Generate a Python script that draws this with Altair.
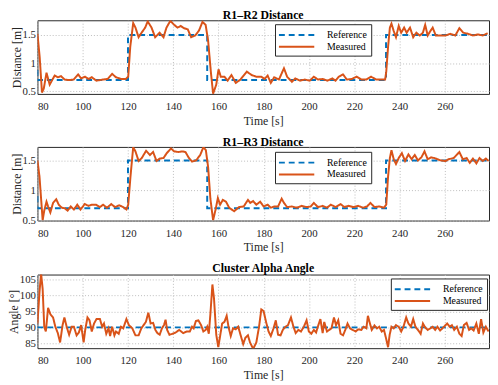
import altair as alt
import pandas as pd

# ---------------- data ----------------
series_names = ["Reference", "Measured"]
series_colors = ["#0072BD", "#D95319"]

x_ticks = [80, 100, 120, 140, 160, 180, 200, 220, 240, 260]

# Panel 1: R1-R2 distance
ref1_t = [80, 80, 120, 120, 155, 155, 234, 234, 279.5]
ref1_v = [0.88, 0.7, 0.7, 1.5, 1.5, 0.7, 0.7, 1.5, 1.5]
meas1_t = [80, 81, 82, 82.8, 84, 85.4, 87.6, 89, 90.4, 92, 94, 96, 98, 99.3, 101, 102.6, 104, 106, 109, 111,
           113, 114.7, 117, 119, 120.1, 121, 122.3, 123.3, 124.7, 126, 127.6, 128.7, 130.4, 132, 134, 135.7,
           137, 138.7, 140.4, 141.9, 143.3, 144.7, 146.4, 147.9, 149.7, 151.4, 152.9, 154.3, 155.4, 156.6,
           157.6, 159, 160, 161, 162.6, 164, 165.7, 167.6, 169.7, 172.5, 174.6, 176.7, 178.9, 180.3, 181.7,
           183.1, 184.6, 186.7, 188.9, 190.3, 192.4, 193.9, 196, 198.1, 200.3, 202.1, 203.9, 206, 208.1,
           210.3, 211.7, 213.1, 215, 216.7, 218.9, 221, 223.1, 225.3, 227.4, 229.6, 231.7, 233.6, 234.1,
           234.9, 235.7, 236.4, 237.4, 238.4, 239.6, 240.7, 242, 243.1, 244.6, 246, 247.4, 248.9, 250.3,
           251.3, 252.4, 253.6, 254.6, 256, 258.1, 260.3, 262.4, 264.6, 266.4, 268.1, 270.3, 272.4, 274.6,
           276.7, 278.9]
meas1_v = [1.52, 1.1, 0.48, 0.55, 0.83, 0.62, 0.78, 0.75, 0.77, 0.71, 0.70, 0.71, 0.80, 0.73, 0.76, 0.72,
           0.75, 0.69, 0.71, 0.72, 0.81, 0.75, 0.72, 0.72, 0.76, 1.29, 1.71, 1.63, 1.46, 1.54, 1.63, 1.74,
           1.63, 1.46, 1.54, 1.46, 1.63, 1.75, 1.68, 1.63, 1.66, 1.62, 1.60, 1.46, 1.49, 1.58, 1.73, 1.68,
           1.40, 0.85, 0.46, 0.62, 0.89, 0.76, 0.76, 0.69, 0.79, 0.65, 0.71, 0.85, 0.79, 0.76, 0.76, 0.72,
           0.78, 0.65, 0.75, 0.71, 0.91, 0.76, 0.67, 0.73, 0.69, 0.71, 0.69, 0.76, 0.71, 0.72, 0.69, 0.73,
           0.69, 0.76, 0.80, 0.71, 0.72, 0.76, 0.71, 0.71, 0.76, 0.71, 0.71, 0.71, 0.85, 1.29, 1.63, 1.70,
           1.57, 1.46, 1.66, 1.54, 1.63, 1.54, 1.63, 1.46, 1.54, 1.49, 1.54, 1.68, 1.49, 1.57, 1.63, 1.49,
           1.49, 1.49, 1.52, 1.49, 1.62, 1.54, 1.52, 1.49, 1.51, 1.49, 1.53]

# Panel 2: R1-R3 distance
ref2_t = [80, 80, 120, 120, 155, 155, 234, 234, 279.5]
ref2_v = [0.9, 0.7, 0.7, 1.5, 1.5, 0.7, 0.7, 1.5, 1.5]
meas2_t = [80, 80.9, 81.9, 82.3, 83, 84, 84.7, 85.7, 86.9, 88.3, 89.4, 90.7, 92.1, 93.3, 94.7, 96.1, 97.6,
           99, 100.9, 102.6, 104, 105.9, 107.6, 109, 110.7, 112.6, 114.3, 116.1, 117.9, 119.3, 120.1, 121.1,
           122.3, 123.3, 124.7, 126.1, 128, 129.7, 131.1, 132.6, 134, 135.7, 137.1, 139, 140.4, 142.3, 144,
           145.4, 146.9, 148.3, 150.1, 151.9, 153.3, 154.4, 155.4, 156.4, 157.6, 158.7, 159.7, 160.7, 161.9,
           163.3, 164.7, 166.9, 169, 171.1, 173, 174, 175.3, 176.7, 178.4, 179.9, 181.7, 183.1, 184.6, 186.3,
           187.9, 188.9, 190.3, 192.4, 194.6, 196.7, 198.9, 200.7, 202.1, 203.9, 206, 207.9, 209.6, 211.7,
           213.9, 215.6, 217.4, 219.6, 221.7, 223.9, 225.6, 227.1, 228.9, 231, 233.1, 234.1, 234.9, 235.7,
           236.4, 237.4, 238.4, 239.6, 241, 242.4, 243.9, 245.3, 246.7, 248.1, 249.6, 251, 252.4, 253.9,
           255.3, 256.7, 258.1, 260.3, 261.7, 263.9, 266.4, 267.9, 269.6, 271, 272.4, 273.9, 275.3, 276.7,
           278.1, 279.3]
meas2_v = [1.5, 1.23, 0.71, 0.5, 0.66, 0.81, 0.73, 0.63, 0.79, 0.85, 0.76, 0.71, 0.70, 0.66, 0.73, 0.68,
           0.76, 0.68, 0.77, 0.74, 0.76, 0.76, 0.72, 0.76, 0.71, 0.77, 0.72, 0.75, 0.72, 0.68, 0.76, 1.23,
           1.72, 1.65, 1.49, 1.54, 1.66, 1.59, 1.64, 1.49, 1.53, 1.54, 1.62, 1.70, 1.65, 1.64, 1.65, 1.64,
           1.54, 1.48, 1.50, 1.59, 1.72, 1.67, 1.39, 0.86, 0.5, 0.68, 0.87, 0.76, 0.84, 0.81, 0.71, 0.65,
           0.72, 0.73, 0.84, 0.79, 0.82, 0.76, 0.81, 0.73, 0.76, 0.71, 0.73, 0.73, 0.86, 0.79, 0.72, 0.73,
           0.71, 0.74, 0.72, 0.73, 0.79, 0.72, 0.74, 0.71, 0.76, 0.72, 0.77, 0.72, 0.74, 0.72, 0.74, 0.71,
           0.73, 0.79, 0.72, 0.73, 0.71, 0.76, 1.23, 1.54, 1.67, 1.52, 1.44, 1.54, 1.62, 1.49, 1.60, 1.52,
           1.59, 1.50, 1.55, 1.65, 1.52, 1.55, 1.54, 1.52, 1.50, 1.49, 1.52, 1.54, 1.64, 1.52, 1.54, 1.46,
           1.53, 1.45, 1.54, 1.49, 1.53, 1.49]

# Panel 3: cluster alpha angle
ref3_t = [80, 279.5]
ref3_v = [90, 90]
meas3_t = [80, 80.9, 81.6, 82.3, 83, 83.7, 84.7, 85.7, 86.9, 87.9, 89, 90, 91.1, 91.9, 92.9, 94, 95.1, 96.1,
           97.3, 98.3, 99.3, 100.4, 101.1, 102.1, 103, 104, 105, 106.1, 107.6, 108.6, 109.4, 110.4, 111.4,
           112.1, 113, 114, 114.7, 115.9, 116.9, 117.9, 119.3, 120.4, 121.9, 123.3, 124.7, 125.9, 126.9,
           127.9, 129, 130, 131.1, 132.1, 133, 134, 135, 135.9, 136.6, 137.3, 138.3, 139.7, 141.1, 142.6,
           144.4, 145.9, 147.3, 148.3, 149, 150, 151.1, 152.3, 153.3, 154.3, 155, 155.7, 156.4, 157.3, 158,
           159, 159.9, 160.7, 161.6, 162.6, 163.6, 164.4, 165.4, 166.4, 167.6, 168.7, 169.7, 170.9, 171.9,
           173, 173.9, 175.3, 176.7, 177.9, 178.9, 179.9, 181, 182.1, 183.1, 184.3, 185.3, 186.3, 187.4,
           188.4, 189.6, 190.7, 192, 193.1, 194.1, 195.3, 196.4, 197.7, 198.9, 199.9, 201, 202.1, 203.1,
           204.1, 205, 206, 206.7, 207.9, 208.9, 209.9, 211, 211.9, 212.9, 213.9, 215, 216, 217, 218.1,
           219.3, 220.6, 221.7, 223.1, 224.1, 225.3, 226, 226.7, 227.7, 228.9, 230, 231, 232.1, 233.1, 234.1,
           234.9, 235.6, 236.4, 237.4, 238.4, 239.6, 240.7, 241.7, 242.9, 243.9, 245, 246, 247, 248.1, 249.3,
           250.3, 251.3, 252.4, 253.6, 254.6, 255.7, 256.7, 257.9, 258.9, 259.9, 261, 262.1, 263.1, 264.1,
           265.3, 266.4, 267.4, 268.4, 269.6, 270.7, 271.7, 272.7, 273.9, 275, 276, 277, 278.1, 279.3]
meas3_v = [91.2, 101, 106.9, 102, 90.2, 88.7, 96.1, 94.1, 93.1, 90.2, 88.2, 85.3, 90.7, 93.1, 90.2, 87.7,
           90.2, 90.2, 87.5, 88.4, 90.7, 85.3, 89.2, 93.1, 92.2, 88.7, 91.2, 92.6, 92.6, 90.2, 91.2, 88,
           89.7, 87.3, 90.2, 87.5, 88.7, 88, 90.2, 89.7, 92.6, 90.7, 89.7, 87.5, 87.5, 89.7, 90.7, 91.7,
           94.6, 91.2, 91.4, 89.2, 88.2, 87.7, 89.7, 90.7, 92.4, 89.2, 87.7, 88, 88.4, 89.2, 88.2, 88.7,
           88.7, 90.2, 89.7, 92, 92.2, 90.7, 88.7, 89.2, 90.2, 88, 94.1, 103.4, 99, 87.7, 83.8, 87.3, 91.2,
           91.7, 93.6, 90.2, 87.3, 89.7, 89.4, 90.2, 87.7, 84.8, 86.8, 87.5, 85.3, 83.3, 85.3, 90.2, 95.6,
           95.1, 91.7, 88.7, 87.3, 89.7, 92.2, 87.7, 87.5, 89.2, 90.2, 90.7, 93.1, 90.2, 88.2, 89.2, 88.7,
           90.2, 92.2, 88.7, 88, 89.2, 88.4, 90.7, 92.6, 88.2, 91.7, 88.7, 89.2, 89.7, 93.1, 90.7, 92.2, 88,
           87.5, 89.2, 91.2, 89.7, 89.2, 88.7, 89.4, 89.2, 90.2, 89.7, 93.6, 91.7, 89.2, 90.6, 89.7, 90.2,
           88.7, 89.2, 86.3, 83.8, 87.7, 90.2, 89.7, 90.7, 90.2, 88.7, 90.2, 93.1, 91.2, 90.2, 92.6, 90.2,
           89.2, 88, 91.2, 90, 89.2, 89.7, 90.2, 89.2, 90.2, 89, 89.7, 90.4, 91.2, 90.2, 90.7, 89.2, 90.2,
           88, 87.3, 90.7, 91.4, 89.2, 89.7, 89, 91.2, 88, 92.6, 88.4, 90.2, 88.7]

FONT = "Liberation Serif"
X_DOMAIN = [80, 279.5]
PLOT_W = 460


def make_df(ref_t, ref_v, meas_t, meas_v):
    rows = []
    for i, (t, v) in enumerate(zip(ref_t, ref_v)):
        rows.append({"t": t, "v": v, "series": "Reference", "i": i})
    for i, (t, v) in enumerate(zip(meas_t, meas_v)):
        rows.append({"t": t, "v": v, "series": "Measured", "i": i})
    return pd.DataFrame(rows)


def panel(df, title, ytitle, ydomain, yticks, lx, ly, h):
    legend = alt.Legend(title=None, orient="none", legendX=lx, legendY=ly,
                        symbolType="M-3,0H3", symbolSize=144, symbolStrokeWidth=2,
                        symbolOffset=11, labelOffset=24,
                        labelFont=FONT, labelFontSize=10, labelColor="#000000",
                        strokeColor="#262626", fillColor="#ffffff", padding=4,
                        rowPadding=0, cornerRadius=0)
    color = alt.Color("series:N", scale=alt.Scale(domain=series_names, range=series_colors), legend=legend)
    dash = alt.StrokeDash("series:N", scale=alt.Scale(domain=series_names, range=[[6, 4], [1, 0]]), legend=legend)
    x = alt.X("t:Q", scale=alt.Scale(domain=X_DOMAIN, nice=False, zero=False),
              axis=alt.Axis(values=x_ticks, title="Time [s]"))
    y = alt.Y("v:Q", scale=alt.Scale(domain=ydomain, nice=False, zero=False),
              axis=alt.Axis(values=yticks, title=ytitle, format="~g"))
    base = alt.Chart(df)
    ref = base.transform_filter(alt.datum.series == "Reference").mark_line(
        strokeWidth=2, clip=True).encode(x=x, y=y, color=color, strokeDash=dash, order="i:Q")
    meas = base.transform_filter(alt.datum.series == "Measured").mark_line(
        strokeWidth=2, clip=True).encode(x=x, y=y, color=color, strokeDash=dash, order="i:Q")
    return alt.layer(ref, meas).properties(
        width=PLOT_W, height=h,
        title=alt.TitleParams(title, font=FONT, fontSize=12, fontWeight="bold", offset=-2, color="#000000"))


p1 = panel(make_df(ref1_t, ref1_v, meas1_t, meas1_v), "R1–R2 Distance", "Distance [m]",
           [0.455, 1.76], [0.5, 1, 1.5], 242, 4, 75)
p2 = panel(make_df(ref2_t, ref2_v, meas2_t, meas2_v), "R1–R3 Distance", "Distance [m]",
           [0.495, 1.725], [0.5, 1, 1.5], 242, 5, 75)
p3 = panel(make_df(ref3_t, ref3_v, meas3_t, meas3_v), "Cluster Alpha Angle", "Angle [°]",
           [83.5, 106.5], [85, 90, 95, 100, 105], 360, 4, 75)

chart = alt.vconcat(p1, p2, p3, spacing=8).resolve_scale(
    color="independent", strokeDash="independent"
).properties(
    padding={"left": -1, "top": -3, "right": 0, "bottom": 0}
).configure(background="#ffffff", font=FONT).configure_view(
    stroke="#262626", strokeWidth=1
).configure_axis(
    labelFont=FONT, labelFontSize=11, labelColor="#262626",
    titleFont=FONT, titleFontSize=12, titleFontWeight="normal", titleColor="#262626",
    grid=True, gridDash=[1, 2], gridColor="#bdbdbd", gridWidth=1,
    domain=False, ticks=False
).configure_axisX(labelPadding=7, titlePadding=4).configure_axisY(
    labelPadding=2, titlePadding=-1
).configure_legend(labelFont=FONT)

chart.save("out.html", embed_options={"renderer": "svg", "actions": False})
